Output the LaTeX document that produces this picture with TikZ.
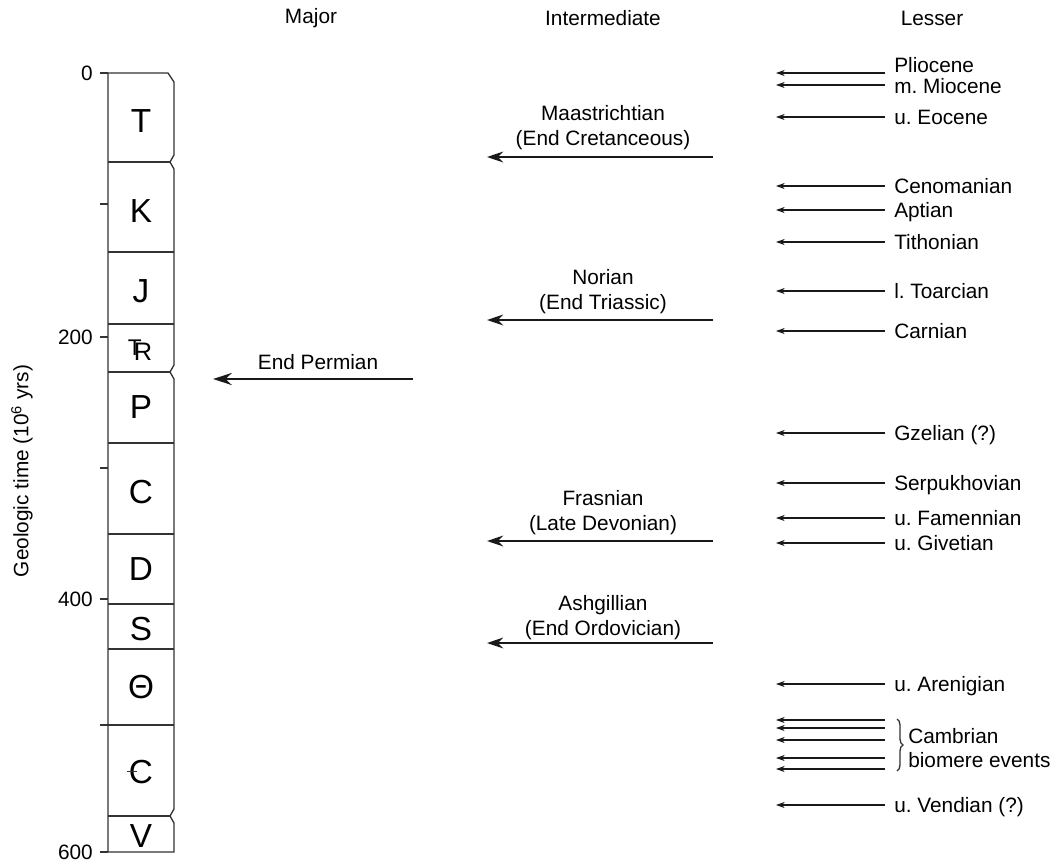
\documentclass[tikz,border=0pt]{standalone}
\usepackage{fontspec}
\setmainfont{Liberation Sans}
\usetikzlibrary{arrows.meta,decorations.pathreplacing}

\begin{document}
\frenchspacing
\begin{tikzpicture}[x=0.75pt,y=-0.75pt,
	every node/.style={inner sep=0,font=\fontsize{15.6}{18.7}\selectfont},
	col/.style={draw=black!80,line width=1pt},
	era/.style={anchor=base,font=\fontsize{25}{25}\selectfont},
	ev/.style={align=center,anchor=south},
	lab/.style={anchor=base west},
	big/.style={draw=black!90,line width=2pt,-{Stealth[length=12pt,width=8pt]}},
	small/.style={draw=black!90,line width=0.9pt,-{Stealth[length=6.5pt,width=4.5pt]}}]
\useasboundingbox (0,0) rectangle (1058,865);
% time column
\draw[col] (108,73) -- (168,73) -- (174,82) -- (174,155) -- (170,162) -- (174,169)
	-- (174,365) -- (170,372) -- (174,379) -- (174,809) -- (170,816) -- (174,823)
	-- (174,852) -- (108,852) -- cycle;
\foreach \y in {162,372,816} \draw[col] (108,\y) -- (170,\y);
\foreach \y in {252,324,443,534,604,649,725} \draw[col] (108,\y) -- (174,\y);
\foreach \y in {73,204,337,468,599,725,852} \draw[col] (100,\y) -- (108,\y);
\foreach \n/\y/\t in {a0/73/0,a200/337/200,a400/599/400,a600/852/600}
	\node[anchor=east] (\n) at (93,\y) {\t};
\node[rotate=90] (axis) at (22,471) {Geologic time (10\textsuperscript{6} yrs)};
% periods
\foreach \n/\y/\t in {t/132/T,k/222/K,j/302/J,p/418/P,c/503/C,d/580/D,s/640/S,o/698/Θ,cm/783/C,v/847/V}
	\node[era] (\n) at (141,\y) {\t};
\draw[col] (cm.center) ++(-14,0) -- ++(10,0);
\node[era,font=\fontsize{19}{19}\selectfont] (tr) at (143,360)
	{\makebox[0pt][l]{\hspace{-4.5pt}\raisebox{3.75pt}{\fontsize{17}{17}\selectfont T}}R};
% headers
\node (major) at (311,18) {Major};
\node (inter) at (603,18) {Intermediate};
\node (lesser) at (932,18) {Lesser};
% major
\node[anchor=south] (perm) at (318,370) {End Permian};
\coordinate (perms) at (413,379);
\coordinate (perme) at (213,379);
\draw[big,-{Stealth[length=14pt,width=9pt]}] (perms) -- (perme);
% intermediate
\foreach \n/\ly/\ay/\t in {maas/150/157/{Maastrichtian\\(End Cretanceous)},
	nor/314/320/{Norian\\(End Triassic)},
	fras/535/541/{Frasnian\\(Late Devonian)},
	ash/640/643/{Ashgillian\\(End Ordovician)}}{
	\node[ev] (\n) at (603,\ly) {\t};
	\coordinate (\n s) at (713,\ay);
	\coordinate (\n e) at (487,\ay);
	\draw[big] (\n s) -- (\n e);
}
% lesser
\foreach \n/\ay/\by/\t in {pli/73/72/Pliocene,mio/85/93/m. Miocene,eoc/117/124/u. Eocene,
	cen/186/193/Cenomanian,apt/210/217/Aptian,tit/242/249/Tithonian,
	toa/291/298/l. Toarcian,car/331/338/Carnian,gze/433/440/{Gzelian (?)},
	ser/483/490/Serpukhovian,fam/518/525/u. Famennian,giv/543/550/u. Givetian,
	are/684/691/u. Arenigian,ven/805/812/{u. Vendian (?)}}{
	\node[lab] (\n) at (894,\by) {\t};
	\coordinate (\n s) at (885,\ay);
	\coordinate (\n e) at (776,\ay);
	\draw[small] (\n s) -- (\n e);
}
\foreach \ay [count=\i] in {720,728,740,758,769}{
	\coordinate (cb\i s) at (885,\ay);
	\coordinate (cb\i e) at (776,\ay);
	\draw[small] (cb\i s) -- (cb\i e);
}
\draw[col,decorate,decoration={brace,amplitude=4.5pt}] (897,719) -- (897,771);
\node[lab] (camb) at (908,743) {Cambrian};
\node[lab] (biom) at (908,767) {biomere events};
\end{tikzpicture}
\end{document}
